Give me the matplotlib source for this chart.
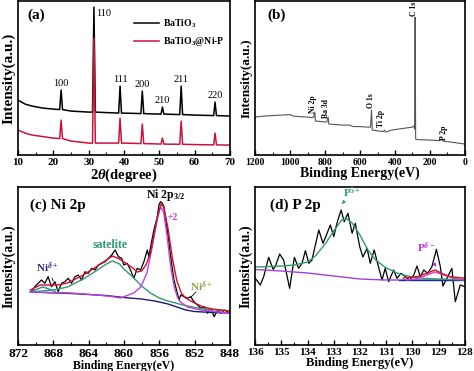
import matplotlib
matplotlib.use("Agg")
import matplotlib.pyplot as plt
from matplotlib.ticker import MultipleLocator

plt.rcParams['font.family'] = ['Liberation Serif', 'DejaVu Serif']
plt.rcParams['font.weight'] = 'bold'
plt.rcParams['axes.labelweight'] = 'bold'
plt.rcParams['mathtext.fontset'] = 'custom'
plt.rcParams['mathtext.rm'] = 'Liberation Serif:bold'
plt.rcParams['mathtext.it'] = 'Liberation Serif:italic:bold'
plt.rcParams['mathtext.bf'] = 'Liberation Serif:bold'

# ---------------- (a) XRD ----------------
xrd_2theta = [10, 12, 14, 17, 20, 21.8, 22.2, 22.6, 25, 30, 31.1, 31.5, 31.9, 35,
              38.5, 38.9, 39.3, 42, 44.8, 45.2, 45.6, 48, 50.5, 50.9, 51.3, 53,
              55.8, 56.2, 56.6, 60, 65.4, 65.8, 66.2, 70]
xrd_batio3 = [55, 51, 49, 47, 46, 45.5, 65, 45.5, 44, 43, 43, 148, 43, 42.5,
              42, 69, 42, 41.8, 41.5, 64, 41.5, 41.2, 41, 48, 41, 40.8,
              40.5, 69, 40.5, 40, 39.5, 53, 39.5, 39]
xrd_nip = [25, 22, 20, 18.5, 17, 16.5, 35, 16.5, 14, 12, 12, 117, 12, 12,
           12, 37, 12, 11.8, 11.5, 31, 11.5, 11.3, 11, 17, 11, 10.9,
           10.8, 34, 10.8, 10.5, 10.2, 22, 10.2, 10]
hkl_labels = ['100', '110', '111', '200', '210', '211', '220']
hkl_pos = [22.2, 31.5, 38.9, 45.2, 50.9, 56.2, 65.8]
hkl_top = [65, 148, 69, 64, 48, 69, 53]

# ---------------- (b) XPS survey ----------------
survey_be = [1200, 1150, 1100, 1050, 1000, 980, 950, 900, 875, 865, 858, 855, 820, 790,
             782, 778, 740, 700, 660, 640, 600, 560, 540, 534, 530, 510, 490, 470,
             460, 455, 420, 380, 340, 300, 292, 288, 285, 282, 270, 200, 150, 133,
             125, 80, 40, 0]
survey_int = [38, 39, 39.5, 40, 40.5, 39, 38.5, 38, 37.5, 38, 43, 34, 33.5, 33,
              38, 31, 30.5, 30, 30, 28.5, 28.5, 28, 28, 45, 25, 24.5, 24, 23.5,
              25, 23, 25, 26, 27, 28, 29, 26, 138, 16, 15.5, 15, 14.5, 16,
              14, 13, 12, 11]
survey_labels = ['Ni 2p', 'Ba 3d', 'O 1s', 'Ti 2p', 'C 1s', 'P 2p']
survey_label_be = [867, 792, 540, 482, 293, 121]
survey_label_y = [42, 37, 47, 28, 139, 15]

# ---------------- (c) Ni 2p ----------------
ni_be = [870.49, 870.10, 869.72, 869.35, 868.96, 868.59, 868.21, 867.82, 867.45, 867.07,
         866.69, 866.31, 865.94, 865.55, 865.17, 864.80, 864.41, 864.04, 863.66, 863.27,
         862.90, 862.52, 862.14, 861.76, 861.39, 861.00, 860.62, 860.25, 860.02, 859.63,
         859.26, 858.88, 858.50, 858.12, 857.74, 857.36, 857.18, 856.98, 856.61, 856.22,
         856.04, 855.85, 855.65, 855.47, 855.08, 854.71, 854.33, 853.95, 853.76, 853.57,
         853.19, 852.81, 852.43, 852.06, 851.67, 851.29, 850.92, 850.53, 850.16, 849.78,
         849.39, 849.02, 848.64, 848.26]
ni_raw = [53.3, 58.3, 61.7, 65, 61.7, 68.3, 58.3, 63.3, 53.3, 61.7,
          63.3, 66.7, 61.7, 68.3, 70, 65, 73.3, 71.7, 76.7, 75,
          80, 81.7, 83.3, 86.7, 90, 95, 88.3, 86.7, 80, 81.7,
          75, 66.7, 76.7, 75, 83.3, 95, 88.3, 98.3, 115, 128.3,
          140, 143.3, 141.7, 138.3, 115, 88.3, 65, 51.7, 45, 50,
          48.3, 46.7, 48.3, 43.3, 40, 36.7, 38.3, 31.7, 36.7, 28.3,
          35, 31.7, 35, 33.3]
ni_env_be = [870.6, 869.5, 868.5, 867.5, 866.4, 864.6, 863, 862, 861.3, 860.5, 860, 859,
             858.5, 858, 857.5, 857, 856.5, 856, 855.8, 855.5, 855, 854.5, 854, 853.5,
             853, 852, 851, 850, 848]
ni_env = [55, 60, 60, 60, 62, 70, 79, 85, 89, 86, 83, 77,
          73, 74, 80, 92, 115, 135, 141, 138, 116, 86, 64, 52,
          47, 42, 38, 36, 34]
ni_bg_be = [870.6, 866, 862, 860, 858, 856.5, 855, 854, 853, 852, 850, 848]
ni_bg = [53, 51.5, 49.5, 47.5, 46, 44, 41, 38, 35, 33.5, 32.5, 32]
ni_main_be = [870.6, 866, 863, 861, 860.4, 858.9, 858.1, 857.4, 856.8, 856.2, 855.85,
              855.5, 855.1, 854.7, 854.3, 853.95, 853.6, 852.8, 851.3, 848.3]
ni_main = [53, 52, 50, 48, 47, 52, 58, 72, 98, 128, 138,
           133, 108, 78, 58, 48, 43, 38, 35, 32]
ni_sat_be = [870.6, 868, 866.4, 864.6, 863, 862, 861.3, 860.5, 860, 859, 858, 857,
             856, 855, 853.3, 851.4, 848]
ni_sat = [53, 55, 58, 66, 75, 81, 84, 81, 76, 68, 59, 52,
          47, 44, 40, 36.5, 34]
ni_d_be = [870.6, 869.8, 869.2, 868.5, 867.8]
ni_d = [53, 56, 58, 56, 53.5]

# ---------------- (d) P 2p ----------------
p_be = [135.99, 135.80, 135.67, 135.48, 135.31, 135.23, 135.06, 134.91, 134.68, 134.50,
        134.34, 134.21, 134.08, 133.95, 133.83, 133.57, 133.41, 133.28, 133.13, 133.00,
        132.88, 132.72, 132.60, 132.46, 132.30, 132.18, 132.01, 131.89, 131.73, 131.61,
        131.46, 131.29, 131.16, 131.04, 130.91, 130.72, 130.59, 130.44, 130.27, 130.11,
        129.95, 129.83, 129.70, 129.57, 129.42, 129.26, 129.09, 128.94, 128.84, 128.69,
        128.50, 128.37, 128.18, 128.00]
p_raw = [66.7, 60, 68.3, 87.7, 75.7, 78.3, 91, 85, 56.7, 87.7,
         76.7, 81.7, 94.3, 81.7, 85, 115, 101.7, 110, 120, 108.3,
         121.7, 135, 123.3, 131.7, 111.7, 121.7, 98.3, 88, 96.7, 81.7,
         95, 77.7, 65, 76.7, 63.3, 75, 66.7, 71.7, 68.3, 65,
         70, 79, 68.3, 75, 71.7, 78.3, 95.7, 78.3, 59, 66.7,
         76.7, 43.3, 60, 58.3]
p_bg_be = [136, 135, 134, 133, 132.5, 132, 131, 128]
p_bg = [75.5, 74, 72, 69, 67.5, 66, 65, 65]
p5_be = [136, 135, 134.5, 134, 133.7, 133.3, 133, 132.7, 132.5, 132.3, 132, 131.7,
         131.4, 131, 130.5, 130, 129.5, 129, 128]
p5 = [78, 79, 80, 83, 89, 102, 114, 125, 126, 122, 110, 95,
      85, 77, 71, 68, 66.5, 66, 65]
pd_be = [130.2, 129.8, 129.4, 129.14, 128.8, 128.4, 128]
pd = [65, 66.5, 70.5, 73, 70, 66.5, 65.3]
p_env_be = [130.35, 129.84, 129.46, 129.14, 128.89, 128.57, 127.96]
p_env = [67, 68.3, 71.7, 75, 71.7, 68.3, 66.7]
p_base_be = [130.5, 128]
p_base = [65, 65]

fig = plt.figure(figsize=(4.74, 3.71), dpi=100)
axa = fig.add_axes([0.038, 0.582, 0.447, 0.415])
axb = fig.add_axes([0.538, 0.582, 0.443, 0.415])
axc = fig.add_axes([0.038, 0.070, 0.447, 0.426])
axd = fig.add_axes([0.538, 0.070, 0.443, 0.426])

for ax in (axa, axb, axc, axd):
    for s in ax.spines.values():
        s.set_linewidth(1.2)
    ax.set_yticks([])
    ax.tick_params(axis='x', which='both', direction='in', top=False, labelsize=8, pad=2)
    ax.tick_params(axis='x', which='major', length=3.5, width=1)
    ax.tick_params(axis='x', which='minor', length=2, width=0.8)

# (a)
axa.plot(xrd_2theta, xrd_batio3, color='black', lw=1.1, label='BaTiO$_3$')
axa.plot(xrd_2theta, xrd_nip, color='#c8143c', lw=1.1, label='BaTiO$_3$@Ni-P')
axa.set_xlim(10, 70)
axa.set_ylim(0, 154)
axa.xaxis.set_major_locator(MultipleLocator(10))
axa.xaxis.set_minor_locator(MultipleLocator(5))
for lab, xp, yt in zip(hkl_labels, hkl_pos, hkl_top):
    if lab == '110':
        axa.text(xp + 0.6, yt - 2, lab, fontsize=7.5, weight='normal', ha='left', va='top')
    else:
        axa.text(xp, yt + 2, lab, fontsize=7.5, weight='normal', ha='center', va='bottom')
axa.text(0.045, 0.95, '(a)', transform=axa.transAxes, fontsize=11, ha='left', va='top')
leg = axa.legend(loc='upper left', bbox_to_anchor=(0.53, 0.92), frameon=False,
                 fontsize=7, handlelength=2.6, handletextpad=0.4, labelspacing=0.55,
                 borderaxespad=0)
axa.set_xlabel(r'2$\mathit{\theta}$(degree)', fontsize=10.5, labelpad=0)
axa.set_ylabel('Intensity(a.u.)', fontsize=11, labelpad=2)

# (b)
axb.plot(survey_be, survey_int, color='#555555', lw=0.8)
axb.set_xlim(1200, 0)
axb.set_ylim(0, 154)
axb.xaxis.set_major_locator(MultipleLocator(200))
axb.xaxis.set_minor_locator(MultipleLocator(100))
axb.tick_params(axis='x', labelsize=7)
for lab, xp, yp in zip(survey_labels, survey_label_be, survey_label_y):
    axb.text(xp, yp, lab, fontsize=5.5, rotation=90, ha='center', va='bottom')
axb.text(0.06, 0.95, '(b)', transform=axb.transAxes, fontsize=11, ha='left', va='top')
axb.set_xlabel('Binding Energy(eV)', fontsize=10, labelpad=0)
axb.set_ylabel('Intensity(a.u.)', fontsize=9.5, labelpad=2)

# (c)
axc.plot(ni_be, ni_raw, color='black', lw=0.9)
axc.plot(ni_bg_be, ni_bg, color='#1c1c6e', lw=1.0)
axc.plot(ni_sat_be, ni_sat, color='#2e9a72', lw=1.0)
axc.plot(ni_d_be, ni_d, color='#2a8aa8', lw=1.0)
axc.plot(ni_main_be, ni_main, color='#c040e0', lw=1.0)
axc.plot(ni_env_be, ni_env, color='#d0102a', lw=1.0)
axc.set_xlim(872, 848)
axc.set_ylim(0, 158)
axc.xaxis.set_major_locator(MultipleLocator(4))
axc.xaxis.set_minor_locator(MultipleLocator(2))
axc.tick_params(axis='x', labelsize=9.5)
axc.text(0.055, 0.885, '(c) Ni 2p', transform=axc.transAxes, fontsize=11, ha='left', va='center')
axc.text(855.3, 150, 'Ni 2p$_{3/2}$', fontsize=8.5, ha='center', va='center')
axc.text(854.5, 127, '+2', fontsize=7, color='#c040e0', ha='center', va='center')
axc.text(861.6, 100, 'satelite', fontsize=8.5, color='#2e9a72', ha='center', va='center')
axc.annotate('Ni$^{\\delta+}$', xy=(868.0, 64), xytext=(868.7, 77), fontsize=8,
             color='#2a2a8a', ha='center', va='center',
             arrowprops=dict(arrowstyle='-', color='black', lw=0.6, shrinkA=4, shrinkB=0))
axc.annotate('Ni$^{\\delta+}$', xy=(852.4, 48), xytext=(851.3, 58), fontsize=8,
             color='#8fa040', ha='center', va='center',
             arrowprops=dict(arrowstyle='-', color='black', lw=0.6, shrinkA=5, shrinkB=0))
axc.set_xlabel('Binding Energy(eV)', fontsize=8.5, labelpad=0)
axc.set_ylabel('Intensity(a.u.)', fontsize=10, labelpad=2)

# (d)
axd.plot(p_be, p_raw, color='black', lw=0.9)
axd.plot(p_bg_be, p_bg, color='#a040e0', lw=1.0)
axd.plot(p_base_be, p_base, color='#1c2c9e', lw=1.0)
axd.plot(p5_be, p5, color='#2e9a72', lw=1.0)
axd.plot(pd_be, pd, color='#d040d0', lw=1.0)
axd.plot(p_env_be, p_env, color='#d0102a', lw=1.0)
axd.set_xlim(136, 128)
axd.set_ylim(0, 158)
axd.xaxis.set_major_locator(MultipleLocator(1))
axd.xaxis.set_minor_locator(MultipleLocator(0.5))
axd.tick_params(axis='x', labelsize=8)
axd.text(0.07, 0.886, '(d) P 2p', transform=axd.transAxes, fontsize=11, ha='left', va='center')
axd.annotate('P$^{5+}$', xy=(132.69, 141), xytext=(132.3, 152), fontsize=8,
             color='#2e9a72', ha='center', va='center',
             arrowprops=dict(arrowstyle='-|>', color='#2e9a72', lw=0.6, mutation_scale=5,
                             shrinkA=3, shrinkB=0))
axd.annotate('P$^{\\delta-}$', xy=(129.1, 78), xytext=(129.5, 97), fontsize=8,
             color='#c030d0', ha='center', va='center',
             arrowprops=dict(arrowstyle='-|>', color='#c030d0', lw=0.6, mutation_scale=5,
                             shrinkA=4, shrinkB=0))
axd.set_xlabel('Binding Energy(eV)', fontsize=9, labelpad=0)
axd.set_ylabel('Intensity(a.u.)', fontsize=10, labelpad=2)

fig.savefig('out.png', dpi=100)
